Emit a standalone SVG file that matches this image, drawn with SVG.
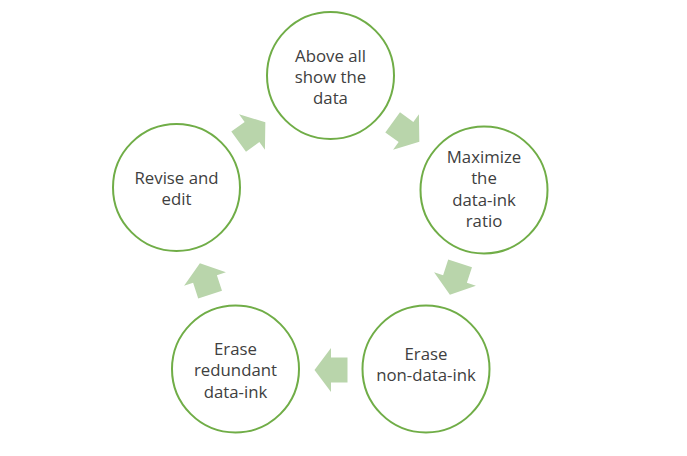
<svg xmlns="http://www.w3.org/2000/svg" width="687" height="456" viewBox="0 0 687 456">
<defs>
<style>
.node circle{fill:#ffffff;stroke:#70ad47;stroke-width:2}
.node text{font-family:"Open Sans","Noto Sans",sans-serif;font-size:16.8px;fill:#404040;text-anchor:middle}
.arrow{fill:#b9d5ab}
</style>
<path id="blk" d="M-16.5,-12.5 L0,-12.5 L0,-22 L16.5,0 L0,22 L0,12.5 L-16.5,12.5 Z"/>
</defs>
<rect width="687" height="456" fill="#ffffff"/>
<g id="connectors">
<use href="#blk" class="arrow" transform="translate(406,132) rotate(36)"/>
<use href="#blk" class="arrow" transform="translate(455,279) rotate(108)"/>
<use href="#blk" class="arrow" transform="translate(331,370) rotate(180)"/>
<use href="#blk" class="arrow" transform="translate(205,279) rotate(-108)"/>
<use href="#blk" class="arrow" transform="translate(252,132) rotate(-36)"/>
</g>
<g id="node-above" class="node">
<circle cx="330.5" cy="75.5" r="63.5"/>
<text x="330.5" y="62">Above all</text>
<text x="330.5" y="83.2">show the</text>
<text x="330.5" y="104.4">data</text>
</g>
<g id="node-maximize" class="node">
<circle cx="484" cy="190" r="63.5"/>
<text x="484" y="163">Maximize</text>
<text x="484" y="184.4">the</text>
<text x="484" y="205.8">data-ink</text>
<text x="484" y="227.2">ratio</text>
</g>
<g id="node-nondata" class="node">
<circle cx="426" cy="369" r="63.5"/>
<text x="426" y="359.5">Erase</text>
<text x="426" y="380.9">non-data-ink</text>
</g>
<g id="node-redundant" class="node">
<circle cx="235.5" cy="369" r="63.5"/>
<text x="235.5" y="355">Erase</text>
<text x="235.5" y="376.3">redundant</text>
<text x="235.5" y="397.6">data-ink</text>
</g>
<g id="node-revise" class="node">
<circle cx="176.5" cy="187.5" r="63.5"/>
<text x="176.5" y="184">Revise and</text>
<text x="176.5" y="205.3">edit</text>
</g>
</svg>
